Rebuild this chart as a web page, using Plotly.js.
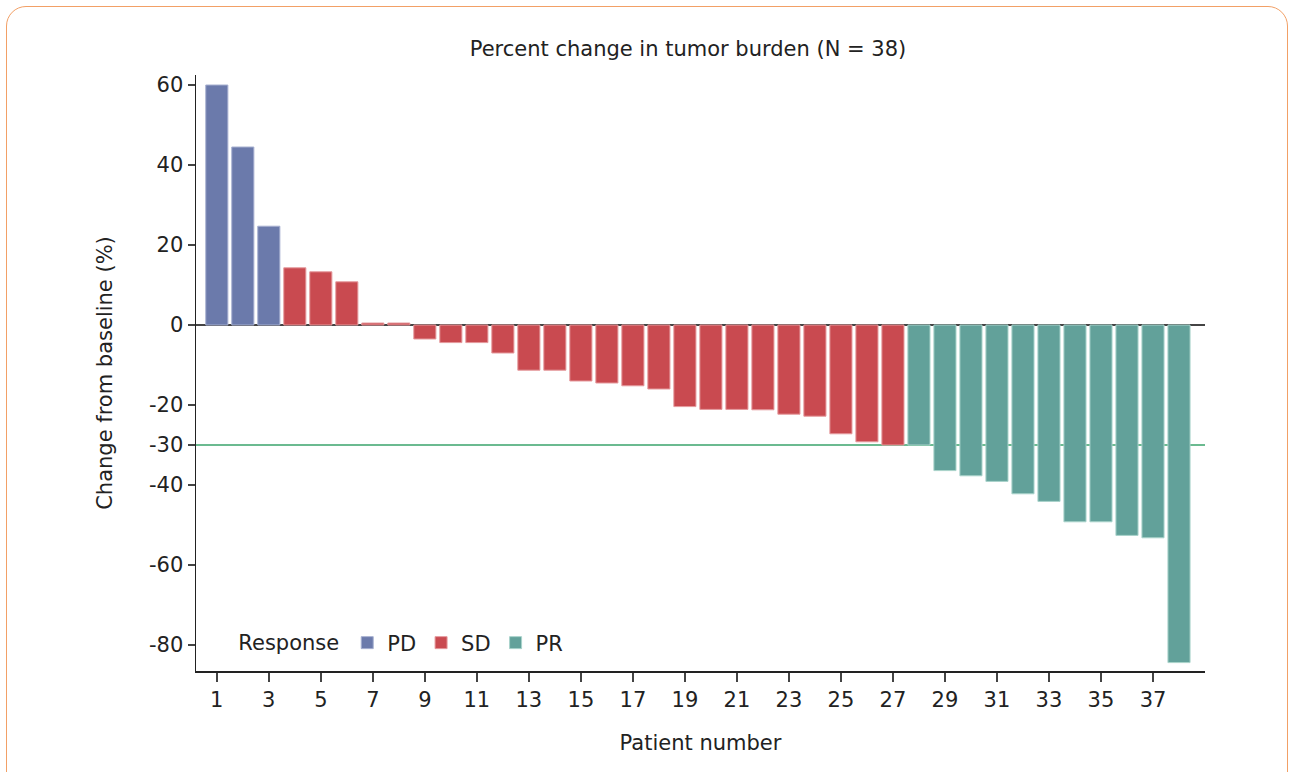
<!DOCTYPE html>
<html>
<head>
<meta charset="utf-8">
<script src="https://cdn.plot.ly/plotly-3.0.1.min.js"></script>
<style>
  html, body { margin: 0; padding: 0; background: #fff; overflow: hidden; }
  #frame { position: absolute; left: 6px; top: 6px; width: 1282px; height: 820px;
           border: 1.5px solid #f2a066; border-radius: 20px; box-sizing: border-box; }
  #chart { position: absolute; left: 0; top: 0; width: 1292px; height: 772px; }
</style>
</head>
<body>
<div id="frame"></div>
<div id="chart"></div>
<script>
const patients = [1,2,3,4,5,6,7,8,9,10,11,12,13,14,15,16,17,18,19,20,21,22,23,24,25,26,27,28,29,30,31,32,33,34,35,36,37,38];
const changes = [60, 44.5, 24.7, 14.3, 13.3, 10.8, 0.5, 0.5, -3.5, -4.4, -4.4, -7, -11.3, -11.3, -14, -14.5, -15.2, -16,
                 -20.4, -21.1, -21.1, -21.2, -22.3, -22.8, -27.2, -29.2, -30, -30, -36.4, -37.7, -39.1, -42.2, -44.1,
                 -49.2, -49.2, -52.6, -53.2, -84.4];
const responses = ['PD','PD','PD','SD','SD','SD','SD','SD','SD','SD','SD','SD','SD','SD','SD','SD','SD','SD','SD','SD',
                   'SD','SD','SD','SD','SD','SD','SD','PR','PR','PR','PR','PR','PR','PR','PR','PR','PR','PR'];
const groups = ['PD','SD','PR'];
const groupColors = {PD: '#6b7aab', SD: '#c94a50', PR: '#62a19a'};
const groupEdges = {PD: '#a7b0d0', SD: '#e59a9d', PR: '#a9d3cb'};
const yTicks = [60, 40, 20, 0, -20, -30, -40, -60, -80];
const xTicks = [1,3,5,7,9,11,13,15,17,19,21,23,25,27,29,31,33,35,37];
const threshold = -30;

const FONT = 'DejaVu Sans, sans-serif';
const FS = 21;

const traces = groups.map(g => {
  const xs = [], ys = [];
  patients.forEach((p, i) => { if (responses[i] === g) { xs.push(p); ys.push(changes[i]); } });
  return {
    type: 'bar', name: g, x: xs, y: ys, width: 0.85,
    marker: { color: groupColors[g], line: { color: groupEdges[g], width: 1 } },
    hoverinfo: 'x+y'
  };
});

const layout = {
  width: 1292, height: 772,
  margin: { l: 196, r: 87, t: 75, b: 101 },
  paper_bgcolor: 'rgba(0,0,0,0)', plot_bgcolor: 'rgba(0,0,0,0)',
  font: { family: FONT, size: FS, color: '#222' },
  barmode: 'overlay',
  title: { text: 'Percent change in tumor burden (N = 38)', font: { family: FONT, size: FS, color: '#222' },
           x: 0.5325, xref: 'container', xanchor: 'center', y: 0.937, yref: 'container', yanchor: 'middle' },
  xaxis: {
    range: [0.2, 39], tickvals: xTicks, ticktext: xTicks.map(String),
    showline: true, linecolor: '#222', linewidth: 1.5, ticks: 'outside', ticklen: 9, tickwidth: 1.5, tickcolor: '#444',
    showgrid: false, zeroline: false, tickfont: { size: FS },
    title: { text: 'Patient number', font: { size: FS }, standoff: 24 }
  },
  yaxis: {
    range: [-86.5, 62.5], tickvals: yTicks, ticktext: yTicks.map(String),
    showline: true, linecolor: '#222', linewidth: 1.5, ticks: 'outside', ticklen: 7, tickwidth: 1.5, tickcolor: '#444',
    showgrid: false, zeroline: true, zerolinecolor: '#444', zerolinewidth: 1.5, tickfont: { size: FS },
    title: { text: 'Change from baseline (%)', font: { size: FS }, standoff: 30 }
  },
  shapes: [{
    type: 'line', xref: 'paper', x0: 0, x1: 1, yref: 'y', y0: threshold, y1: threshold,
    line: { color: '#3aa36b', width: 1.5 }, layer: 'below'
  }],
  showlegend: true,
  legend: {
    orientation: 'h', x: 0.04, xanchor: 'left', y: 0.047, yanchor: 'middle',
    bgcolor: 'rgba(0,0,0,0)', font: { size: FS },
    title: { text: 'Response', font: { size: FS }, side: 'left' },
    itemwidth: 30, tracegroupgap: 0
  }
};

Plotly.newPlot('chart', traces, layout, { displayModeBar: false, staticPlot: true });
</script>
</body>
</html>
